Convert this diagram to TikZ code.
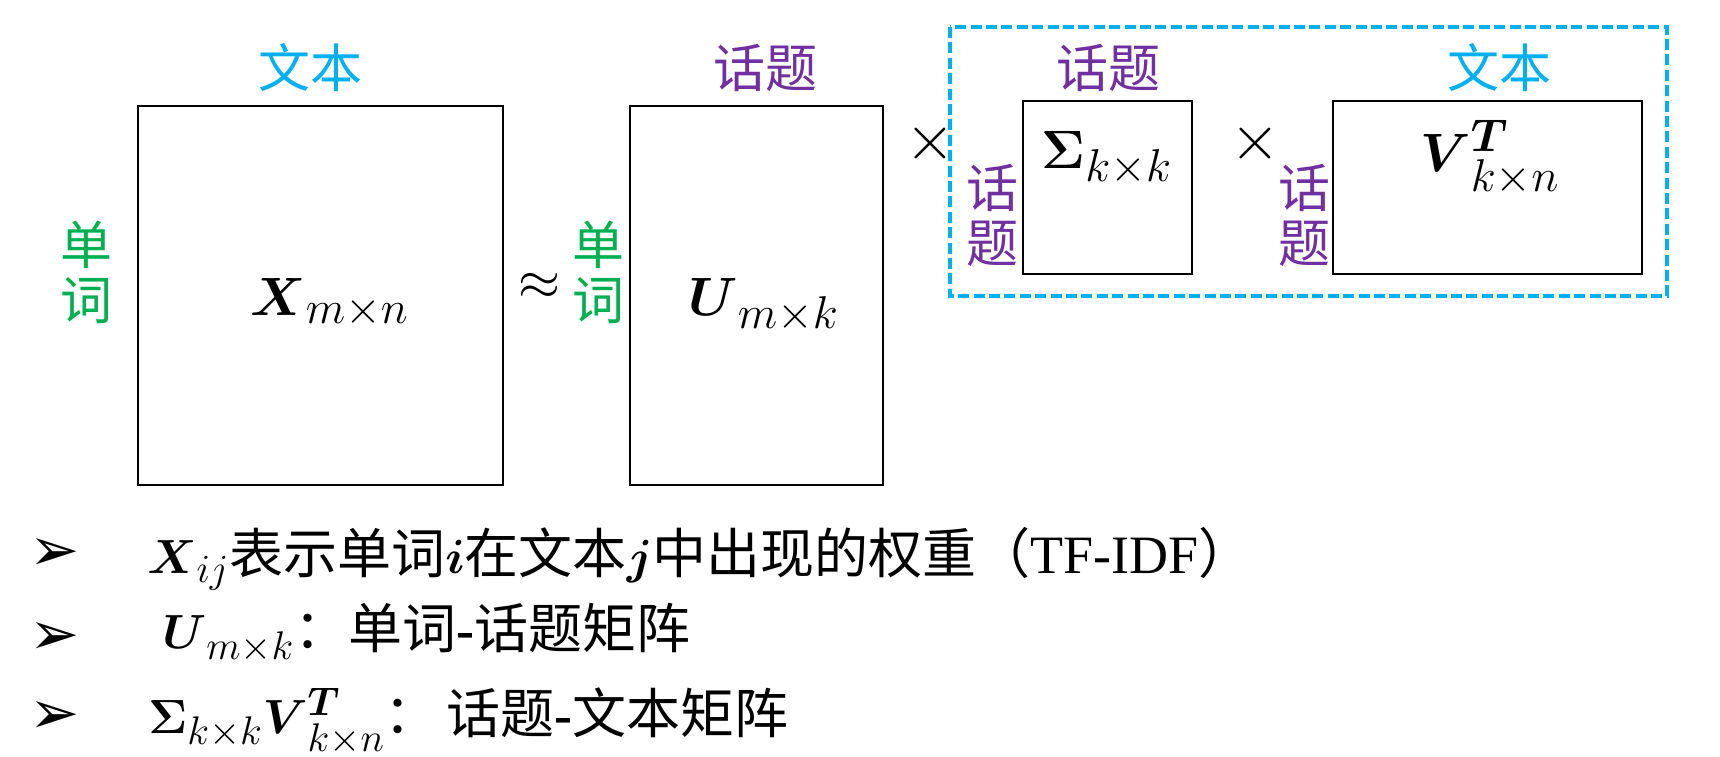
\RequirePackage{fix-cm}
\documentclass[tikz,border=0pt]{standalone}
\usepackage{amsmath}
\usepackage{fontspec}
\setmainfont{Liberation Serif}
\newfontfamily\cjk{Noto Sans CJK SC}
\newfontfamily\dingfont{DejaVu Sans}
\definecolor{ccyan}{HTML}{00B0F0}
\definecolor{cpurple}{HTML}{7030A0}
\definecolor{cgreen}{HTML}{00B050}
\DeclareMathSizes{27}{27}{23}{17}
\DeclareMathSizes{24}{24}{20}{15}
\newcommand\mm[1]{{\fontsize{24}{28}\selectfont$#1$}}
\tikzset{
  mbox/.style={draw=black, line width=1pt},
  grpbox/.style={draw=ccyan, line width=1.6pt, dash pattern=on 5.5pt off 2.2pt},
  lbl/.style={inner sep=0pt, font=\fontsize{26}{27.5}\selectfont\cjk, align=center},
  doclbl/.style={lbl, text=ccyan},
  tpclbl/.style={lbl, text=cpurple},
  wrdlbl/.style={lbl, text=cgreen},
  mth/.style={inner sep=0pt, anchor=base west, font=\fontsize{27}{33}\selectfont},
  approxlbl/.style={inner sep=0pt, font=\fontsize{27}{30}\selectfont},
  timeslbl/.style={inner sep=0pt, font=\fontsize{32}{36}\selectfont},
  bullet/.style={inner sep=0pt, font=\fontsize{30}{32}\selectfont\dingfont},
  itemtext/.style={inner sep=0pt, anchor=base west, font=\fontsize{27}{30}\selectfont},
}
\begin{document}
\begin{tikzpicture}[x=0.5pt,y=-0.5pt]
\useasboundingbox (0,0) rectangle (1720,756);
% matrices
\draw[mbox] (138,106) rectangle (503,485);
\draw[mbox] (630,106) rectangle (883,485);
\draw[mbox] (1023,101) rectangle (1192,274);
\draw[mbox] (1333,101) rectangle (1642,274);
\draw[grpbox] (950,27) rectangle (1667,296);
% labels above
\node[doclbl] (dX) at (310,68) {文本};
\node[tpclbl] (tU) at (765,68) {话题};
\node[tpclbl] (tS) at (1108,68) {话题};
\node[doclbl] (dV) at (1499,68) {文本};
% labels left
\node[wrdlbl] (wX) at (87,272) {单\\词};
\node[wrdlbl] (wU) at (598,272) {单\\词};
\node[tpclbl] (tSl) at (992,215) {话\\题};
\node[tpclbl] (tVl) at (1304,215) {话\\题};
% math in boxes
\node[mth] (mX) at (250,315) {$\boldsymbol{X}_{m\times n}$};
\node[mth] (mU) at (688,315) {$\boldsymbol{U}_{m\times k}$};
\node[mth] (mS) at (1041,168) {$\boldsymbol{\Sigma}_{k\times k}$};
\node[mth] (mV) at (1420,171) {$\boldsymbol{V}^{\boldsymbol{T}}_{k\times n}$};
% operators
\node[approxlbl] (approx) at (539,286) {$\approx$};
\node[timeslbl] (times1) at (930,143) {$\times$};
\node[timeslbl] (times2) at (1255,143) {$\times$};
% bullets
\node[bullet] (b1) at (55,554) {➢};
\node[bullet] (b2) at (55,638) {➢};
\node[bullet] (b3) at (55,717) {➢};
\node[itemtext] (l1) at (147,573) {\mm{\boldsymbol{X}_{ij}}{\cjk 表示单词}\mm{\boldsymbol{i}}{\cjk 在文本}\mm{\boldsymbol{j}}{\cjk 中出现的权重（}TF-IDF{\cjk ）}};
\node[itemtext] (l2) at (162,648) {\mm{\boldsymbol{U}_{m\times k}}{\cjk ：}{\cjk 单词}\textbf{-}{\cjk 话题矩阵}};
\node[itemtext] (l3) at (148,733) {\mm{\boldsymbol{\Sigma}_{k\times k}\boldsymbol{V}^{\boldsymbol{T}}_{k\times n}}{\cjk ：}\hspace{4pt}{\cjk 话题}\textbf{-}{\cjk 文本矩阵}};
\end{tikzpicture}
\end{document}
